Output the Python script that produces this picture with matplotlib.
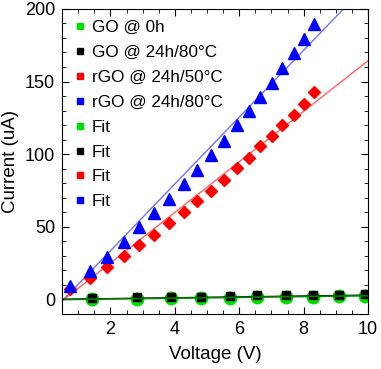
import numpy as np
import matplotlib
matplotlib.use('Agg')
import matplotlib.pyplot as plt
from matplotlib.lines import Line2D

plt.rcParams['font.family'] = ['Liberation Sans', 'DejaVu Sans']

# rGO samples (shared voltages)
v_rgo = [0.75, 1.375, 1.9, 2.42, 2.88, 3.35, 3.82, 4.27, 4.69, 5.13, 5.52,
         5.94, 6.31, 6.66, 7.02, 7.34, 7.69, 8.02, 8.32]
i_rgo80 = [9.2, 19.5, 29.4, 39.7, 49.7, 59.6, 69.3, 79.8, 89.4, 99.7, 109.4,
           119.9, 129.5, 139.4, 149.0, 159.3, 169.6, 179.5, 189.7]
i_rgo50 = [7.4, 14.7, 22.5, 29.8, 37.3, 44.7, 52.7, 60.3, 68.1, 75.0, 82.1,
           90.6, 97.4, 105.4, 112.3, 119.9, 127.2, 134.6, 142.5]

# GO samples
v_go = [1.43, 2.83, 3.87, 4.8, 5.7, 6.56, 7.44, 8.3, 9.1, 9.92]
i_go0 = [0.3, 0.6, 0.8, 1.0, 1.3, 1.5, 1.7, 2.0, 2.2, 2.5]
i_go80 = [1.0, 1.5, 1.6, 1.8, 2.7, 2.9, 2.8, 3.2, 3.4, 4.1]

# fit lines (slope, intercept)
fit_go0 = (0.28, -0.2)
fit_go80 = (0.30, 0.0)
fit_rgo50 = (17.4, -9.7)
fit_rgo80 = (23.0, -12.5)

labels = ['GO @ 0h', 'GO @ 24h/80°C', 'rGO @ 24h/50°C', 'rGO @ 24h/80°C',
          'Fit', 'Fit', 'Fit', 'Fit']
colors = ['#00e000', 'black', 'red', 'blue', '#00e000', 'black', 'red', 'blue']

fig = plt.figure(figsize=(3.81, 3.69), dpi=100)
ax = fig.add_axes([0.163, 0.149, 0.803, 0.827])

xx = np.array([0.5, 10.0])
ax.plot(xx, fit_rgo80[0] * xx + fit_rgo80[1], color='#7070ff', lw=1)
ax.plot(xx, fit_rgo50[0] * xx + fit_rgo50[1], color='#ff6060', lw=1)

ax.plot(v_go, i_go0, 'o', color='#00e000', ms=9, ls='none')
ax.plot(v_go, i_go80, 's', color='black', ms=6, ls='none')
ax.plot(xx, fit_go80[0] * xx + fit_go80[1], color='black', lw=1)
ax.plot(xx, fit_go0[0] * xx + fit_go0[1], color='#008000', lw=1.2)

ax.plot(v_rgo, i_rgo50, 'D', color='red', ms=6.5, ls='none')
ax.plot(v_rgo, i_rgo80, '^', color='blue', ms=8.5, ls='none')

ax.set_xlim(0.5, 10)
ax.set_ylim(-10, 200)
ax.set_xticks([2, 4, 6, 8, 10])
ax.set_yticks([0, 50, 100, 150, 200])
ax.set_xticks(np.arange(0.5, 10.01, 0.5), minor=True)
ax.set_yticks(np.arange(-10, 201, 10), minor=True)
ax.tick_params(which='both', direction='in', top=True, right=True, labelsize=13)
ax.tick_params(which='major', length=5, pad=5)
ax.tick_params(which='minor', length=3)

ax.set_xlabel('Voltage (V)', fontsize=13.5, labelpad=6)
ax.set_ylabel('Current (uA)', fontsize=13.5, labelpad=4)

handles = [Line2D([], [], marker='s', color=c, ls='none', ms=5) for c in colors]
ax.legend(handles, labels, loc='upper left', frameon=False, fontsize=12.3,
          handletextpad=0.3, labelspacing=0.58, borderaxespad=0.1,
          handlelength=0.8, borderpad=0.55)

fig.savefig('out.png', dpi=100)
